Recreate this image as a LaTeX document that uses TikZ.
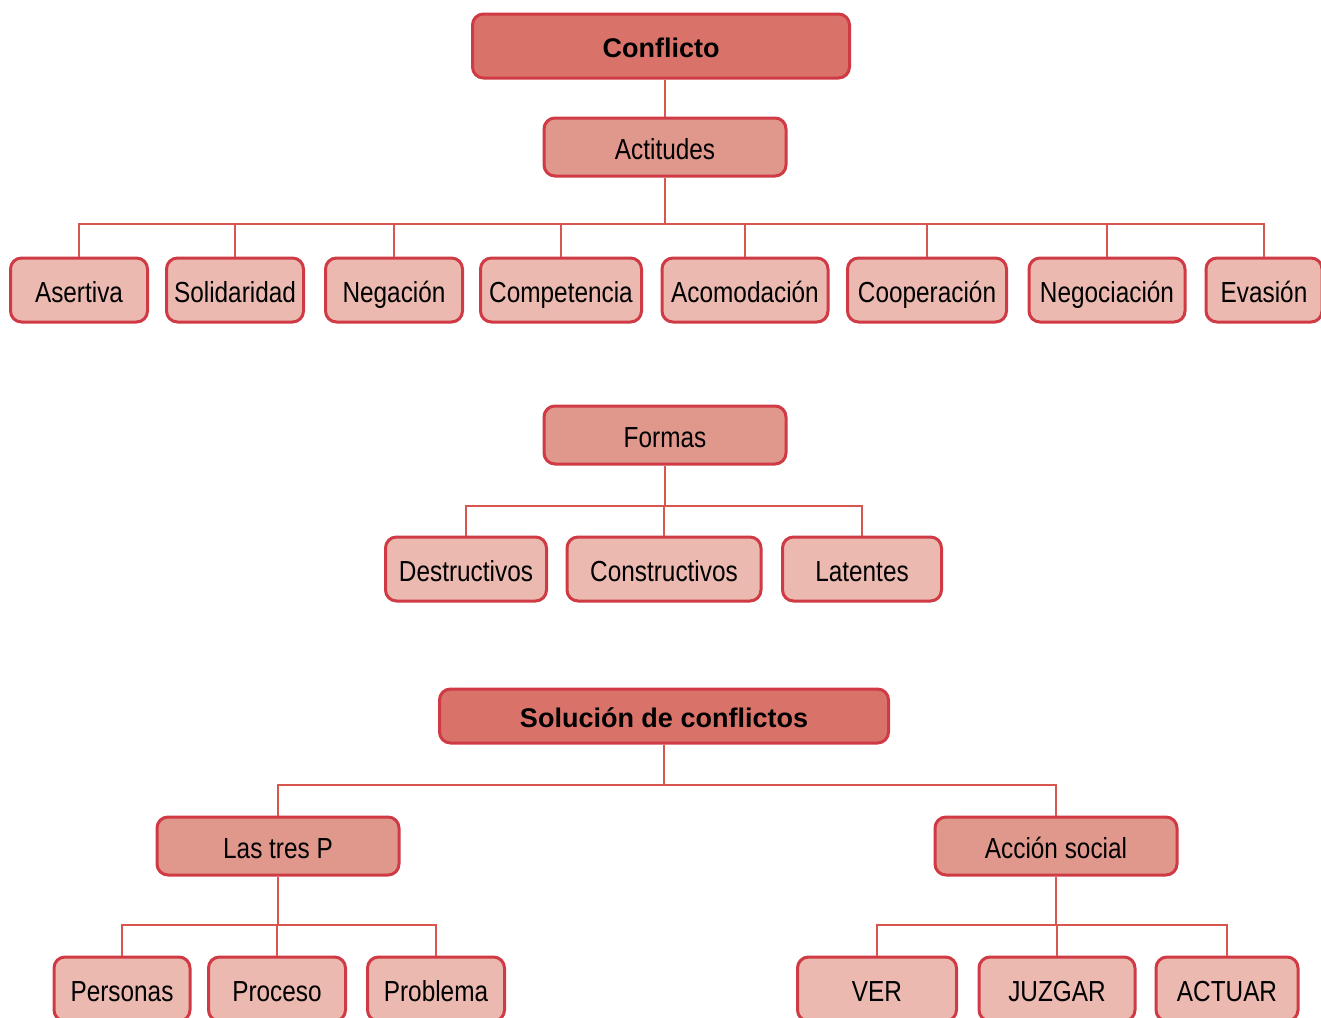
\documentclass[tikz,border=0pt]{standalone}
\usepackage{fontspec}
\setmainfont{Liberation Sans}[FakeStretch=0.84]
\newfontfamily\titlefont{Liberation Sans}
\definecolor{boxline}{RGB}{208,58,68}
\definecolor{linkline}{RGB}{217,85,80}
\definecolor{topfill}{RGB}{217,115,106}
\definecolor{midfill}{RGB}{224,151,140}
\definecolor{leaffill}{RGB}{235,185,175}

\begin{document}
\begin{tikzpicture}[x=1pt, y=-1pt,
        every node/.style={draw=boxline, line width=3pt, rounded corners=11pt,
            inner sep=0pt, minimum height=60pt, text height=24pt, text depth=0pt},
        topbox/.style={fill=topfill, text height=22pt,
            font=\titlefont\bfseries\fontsize{27}{30}\selectfont},
        midbox/.style={fill=midfill, minimum width=242pt, minimum height=58pt,
            font=\fontsize{29}{32}\selectfont},
        leaf/.style={fill=leaffill, minimum height=64pt, font=\fontsize{29}{32}\selectfont},
        link/.style={draw=linkline, line width=2pt}]
    \useasboundingbox[fill=white] (0,0) rectangle (1321,1017);

    % Conflicto
    \node[topbox, minimum width=377pt, minimum height=64pt] (conf) at (661,46) {Conflicto};
    \node[midbox] (act) at (665,147) {Actitudes};
    \node[leaf, minimum width=137pt] (asert) at (79,290) {Asertiva};
    \node[leaf, minimum width=137pt] (solid) at (235,290) {Solidaridad};
    \node[leaf, minimum width=137pt] (negac) at (394,290) {Negación};
    \node[leaf, minimum width=161pt] (compet) at (561,290) {Competencia};
    \node[leaf, minimum width=166pt] (acom) at (745,290) {Acomodación};
    \node[leaf, minimum width=159pt] (coop) at (927,290) {Cooperación};
    \node[leaf, minimum width=156pt] (negoc) at (1107,290) {Negociación};
    \node[leaf, minimum width=116pt] (evas) at (1264,290) {Evasión};

    \draw[link] (act.north) -- (act.north |- conf.south);
    \draw[link] (act.south) -- ++(0,46) coordinate (actbar);
    \foreach \n in {asert,solid,negac,compet,acom,coop,negoc,evas}
        \draw[link] (actbar) -| (\n);

    % Formas
    \node[midbox] (formas) at (665,435) {Formas};
    \node[leaf, minimum width=161pt] (destr) at (466,569) {Destructivos};
    \node[leaf, minimum width=194pt] (constr) at (664,569) {Constructivos};
    \node[leaf, minimum width=159pt] (lat) at (862,569) {Latentes};

    \draw[link] (formas.south) -- ++(0,40) coordinate (formbar);
    \foreach \n in {destr,constr,lat}
        \draw[link] (formbar) -| (\n);

    % Solucion de conflictos
    \node[topbox, minimum width=449pt, minimum height=54pt] (sol) at (664,716) {Solución de conflictos};
    \node[midbox] (tresp) at (278,846) {Las tres P};
    \node[midbox] (accion) at (1056,846) {Acción social};

    \draw[link] (sol.south) -- ++(0,40) coordinate (solbar);
    \foreach \n in {tresp,accion}
        \draw[link] (solbar) -| (\n);

    \node[leaf, minimum width=136pt] (pers) at (122,989) {Personas};
    \node[leaf, minimum width=137pt] (proc) at (277,989) {Proceso};
    \node[leaf, minimum width=137pt] (probl) at (436,989) {Problema};
    \node[leaf, minimum width=159pt] (ver) at (877,989) {VER};
    \node[leaf, minimum width=156pt] (juzg) at (1057,989) {JUZGAR};
    \node[leaf, minimum width=142pt] (actuar) at (1227,989) {ACTUAR};

    \draw[link] (tresp.south) -- ++(0,48) coordinate (trespbar);
    \foreach \n in {pers,proc,probl}
        \draw[link] (trespbar) -| (\n);
    \draw[link] (accion.south) -- ++(0,48) coordinate (accbar);
    \foreach \n in {ver,juzg,actuar}
        \draw[link] (accbar) -| (\n);
\end{tikzpicture}
\end{document}
